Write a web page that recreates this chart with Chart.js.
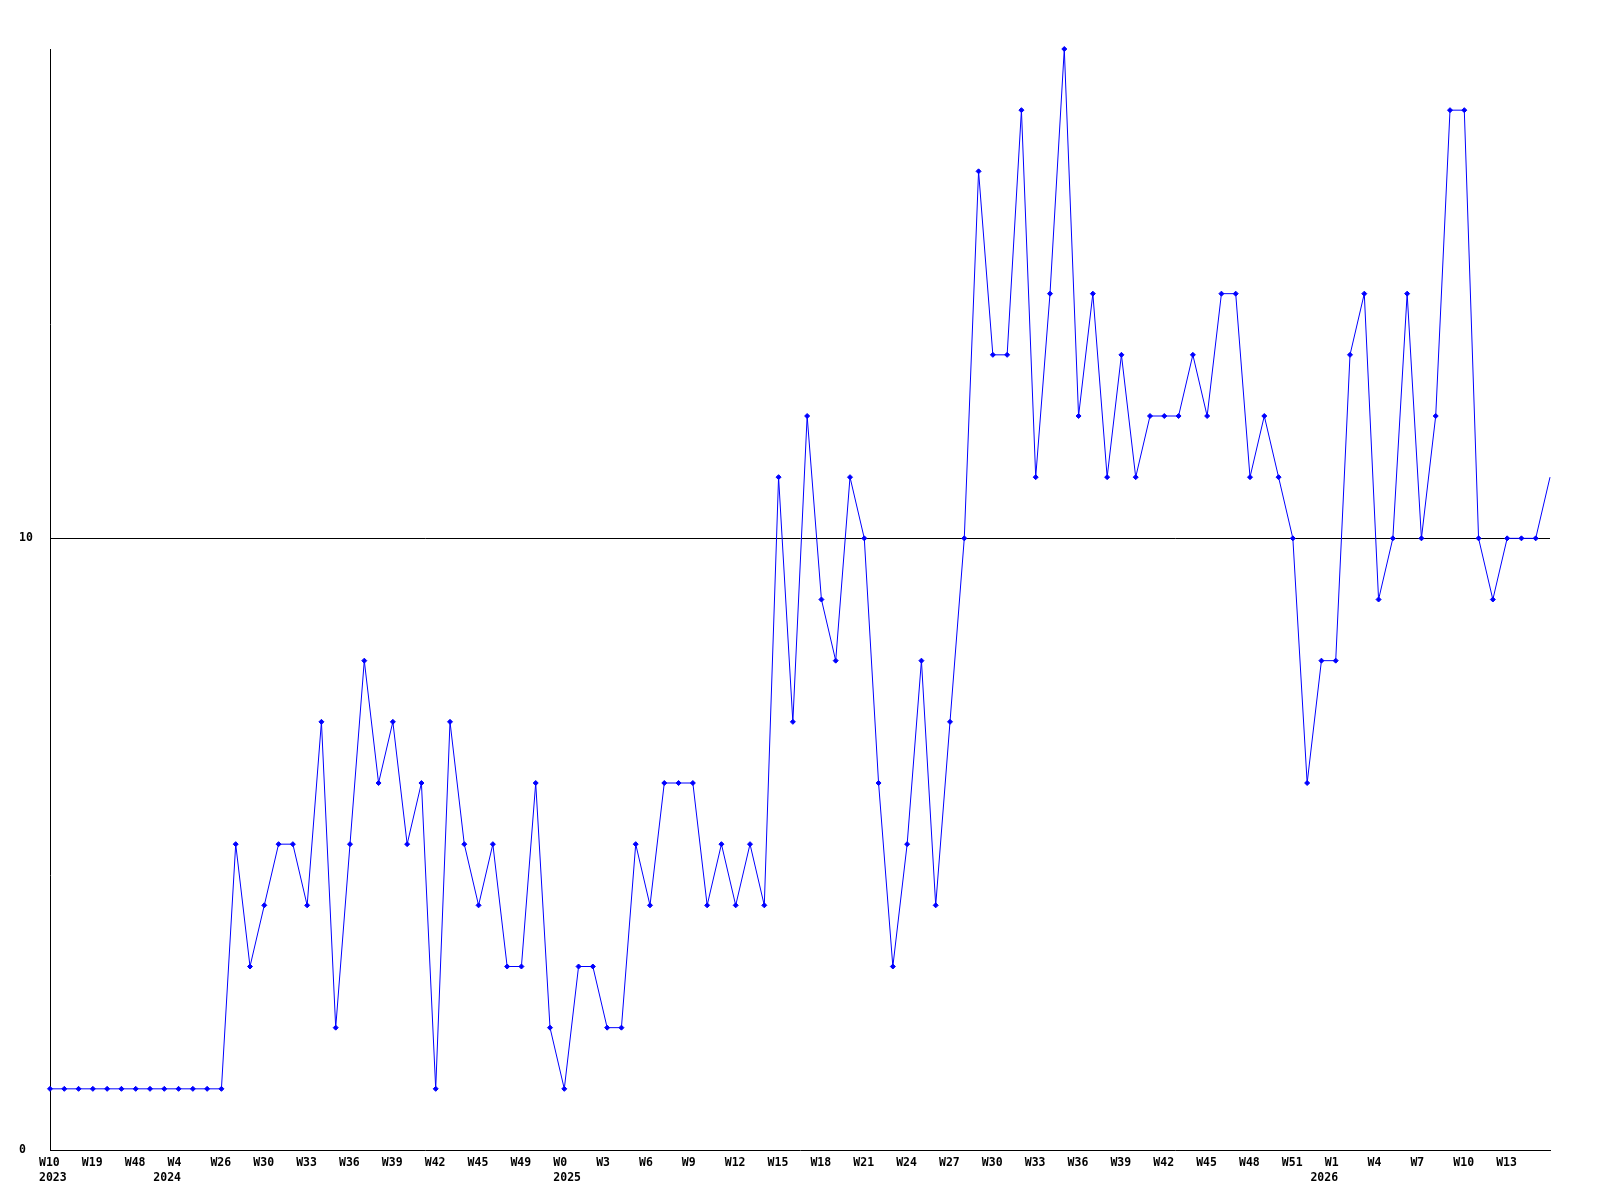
<!DOCTYPE html>
<html>
<head>
<meta charset="utf-8">
<script src="https://cdn.jsdelivr.net/npm/chart.js@4/dist/chart.umd.min.js"></script>
<style>
  html, body { margin: 0; padding: 0; background: #fff; }
  #wrap { width: 1600px; height: 1200px; }
</style>
</head>
<body>
<div id="wrap"><canvas id="weekly" width="1600" height="1200"></canvas></div>
<script>
// one entry per week, in order
const weeks = [
  'W10', 'W13', 'W16', 'W19', 'W27', 'W40', 'W48', 'W50',
  'W2', 'W4', 'W10', 'W18', 'W26', 'W27', 'W28', 'W30', 'W31', 'W32', 'W33', 'W34', 'W35',
  'W36', 'W37', 'W38', 'W39', 'W40', 'W41', 'W42', 'W43', 'W44', 'W45', 'W46', 'W48', 'W49',
  'W50', 'W51',
  'W0', 'W1', 'W2', 'W3', 'W4', 'W5', 'W6', 'W7', 'W8', 'W9', 'W10', 'W11', 'W12', 'W13',
  'W14', 'W15', 'W16', 'W17', 'W18', 'W19', 'W20', 'W21', 'W22', 'W23', 'W24', 'W25', 'W26',
  'W27', 'W28', 'W29', 'W30', 'W31', 'W32', 'W33', 'W34', 'W35', 'W36', 'W37', 'W38', 'W39',
  'W40', 'W41', 'W42', 'W43', 'W44', 'W45', 'W46', 'W47', 'W48', 'W49', 'W50', 'W51', 'W52',
  'W0', 'W1', 'W2', 'W3', 'W4', 'W5', 'W6', 'W7', 'W8', 'W9', 'W10', 'W11', 'W12', 'W13',
  'W14', 'W15', 'W16'
];

// year of each week above
const years = [
  ...Array(8).fill('2023'),
  ...Array(28).fill('2024'),
  ...Array(53).fill('2025'),
  ...Array(17).fill('2026')
];

const counts = [
  1, 1, 1, 1, 1, 1, 1, 1, 1, 1, 1, 1, 1,
  5, 3, 4, 5, 5, 4, 7, 2, 5, 8, 6, 7, 5, 6, 1, 7, 5, 4, 5, 3, 3, 6, 2,
  1, 3, 3, 2, 2, 5, 4, 6, 6, 6, 4, 5, 4, 5, 4,
  11, 7, 12, 9, 8, 11, 10, 6, 3, 5, 8, 4, 7, 10,
  16, 13, 13, 17, 11, 14, 18, 12, 14, 11, 13, 11, 12, 12, 12, 13, 12, 14, 14,
  11, 12, 11, 10, 6, 8, 8, 13, 14, 9, 10, 14, 10, 12, 17, 17, 10, 9, 10, 10, 10, 11
];

const yTicks = [0, 10];
const yMax = 18;

const labelFont = { family: '"DejaVu Sans Mono", "Liberation Mono", monospace', size: 11.5, weight: 'bold', lineHeight: 1.35 };

new Chart(document.getElementById('weekly'), {
  type: 'line',
  data: {
    labels: weeks,
    datasets: [{
      data: counts,
      borderColor: '#0000ff',
      backgroundColor: '#0000ff',
      borderWidth: 1,
      tension: 0,
      clip: false,
      pointStyle: 'rectRot',
      pointRadius: (ctx) => ctx.dataIndex === counts.length - 1 ? 0 : 2.5,
      pointBorderWidth: 1,
      fill: false
    }]
  },
  options: {
    responsive: false,
    animation: false,
    layout: { padding: { top: 49, left: 19, right: 50, bottom: 0 } },
    plugins: {
      legend: { display: false },
      tooltip: { enabled: false }
    },
    scales: {
      x: {
        offset: false,
        grid: { display: false, drawTicks: false },
        border: { display: true, color: '#000', width: 1 },
        afterFit: (axis) => { axis.height = 50; },
        ticks: {
          autoSkip: false,
          maxRotation: 0,
          minRotation: 0,
          align: 'start',
          labelOffset: -11,
          padding: 5,
          color: '#000',
          font: labelFont,
          callback: (value, i) => {
            const week = (i % 3 === 0 && i < weeks.length - 1) ? weeks[i] : '';
            const year = (i === 0 || years[i] !== years[i - 1]) ? years[i] : '';
            return [week, year];
          }
        }
      },
      y: {
        min: 0,
        max: yMax,
        afterFit: (axis) => { axis.width = 31; },
        afterBuildTicks: (axis) => { axis.ticks = yTicks.map(v => ({ value: v })); },
        grid: {
          drawTicks: false,
          color: (ctx) => ctx.tick && ctx.tick.value === 10 ? '#000' : 'rgba(0,0,0,0)',
          lineWidth: 1
        },
        border: { display: true, color: '#000', width: 1 },
        ticks: {
          crossAlign: 'far',
          padding: 0,
          color: '#000',
          font: labelFont
        }
      }
    }
  }
});
</script>
</body>
</html>
